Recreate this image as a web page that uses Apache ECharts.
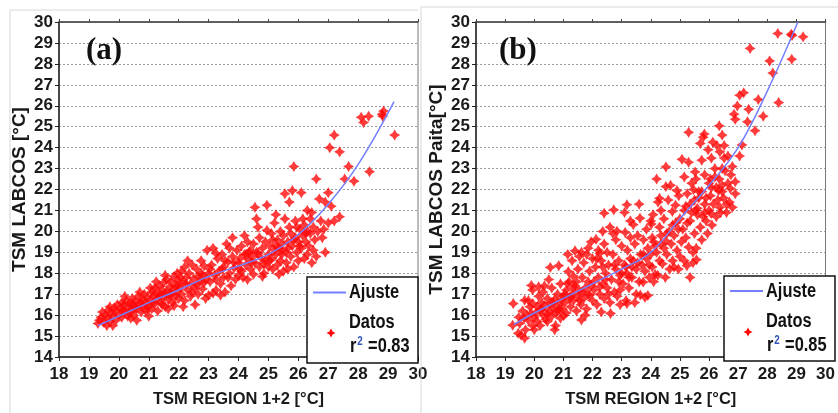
<!DOCTYPE html>
<html><head><meta charset="utf-8">
<script src="https://cdn.jsdelivr.net/npm/echarts@6/dist/echarts.min.js"></script>
<style>html,body{margin:0;padding:0;background:#fff}#c{width:838px;height:413px}</style>
</head><body><div id="c"></div>
<script>
const xRange = [18, 30];
const yRange = [14, 30];
const panelLabels = ['(a)', '(b)'];
const yNames = ['TSM LABCOS [°C]', 'TSM LABCOS Paita[°C]'];
const xName = 'TSM REGION 1+2 [°C]';
const legendNames = ['Ajuste', 'Datos'];
const r2Values = ['0.83', '0.85'];

const fitA = [[19.3,15.5],[20,15.95],[21,16.6],[22,17.2],[23,17.85],[24,18.35],[25,18.9],[26,19.85],[27,21.3],[28,23.2],[29.2,26.2]];
const fitB = [[19.3,15.55],[20,16.1],[21,16.8],[22,17.5],[23,18.2],[24,19.0],[25,20.6],[26,22.2],[27,24.0],[28,26.7],[29.05,30]];

const datosA = [
[19.3,15.6],[19.35,15.75],[19.4,15.9],[19.5,15.65],[19.55,16.0],[19.6,15.85],[19.65,16.25],[19.7,15.7],[19.75,16.1],[19.8,15.5],[19.8,15.95],[19.85,16.35],[19.9,16.2],[19.9,15.75],[19.95,16.5],[20.0,16.0],[19.7,16.4],[19.45,16.15],[19.6,15.5],
[20.05,16.3],[20.1,16.6],[20.1,15.9],[20.15,16.45],[20.2,16.15],[20.25,16.7],[20.3,16.35],[20.3,15.95],[20.35,16.55],[20.4,16.2],[20.45,16.8],[20.5,16.45],[20.5,16.0],[20.55,16.65],[20.6,15.75],[20.6,16.3],[20.65,16.9],[20.7,16.55],[20.75,16.15],[20.8,16.75],[20.8,16.4],[20.85,17.0],[20.9,16.6],[20.9,16.2],[20.95,16.85],[21.0,16.45],[21.0,15.95],[20.2,16.9],[20.4,15.85],[20.7,17.1],
[21.05,16.7],[21.1,17.1],[21.1,16.3],[21.15,16.9],[21.2,17.3],[21.2,16.55],[21.25,17.05],[21.3,16.8],[21.3,16.2],[21.35,17.4],[21.4,16.95],[21.4,16.6],[21.45,17.2],[21.5,17.55],[21.5,16.85],[21.55,16.4],[21.6,17.1],[21.6,17.7],[21.65,16.75],[21.7,17.35],[21.7,16.95],[21.75,17.6],[21.8,17.2],[21.8,16.6],[21.85,17.85],[21.9,17.4],[21.9,16.9],[21.95,17.15],[22.0,17.65],[22.0,16.8],[21.25,17.6],[21.55,17.9],[21.65,16.3],[21.95,18.0],[21.85,16.45],
[22.05,17.3],[22.1,18.1],[22.1,17.0],[22.15,17.55],[22.2,18.3],[22.2,16.7],[22.25,17.8],[22.3,17.2],[22.35,18.0],[22.4,17.5],[22.4,16.9],[22.45,18.4],[22.5,17.75],[22.55,16.5],[22.55,17.3],[22.6,18.2],[22.65,17.0],[22.7,17.6],[22.75,18.6],[22.8,17.9],[22.8,17.25],[22.85,18.35],[22.9,17.7],[22.95,19.1],[23.0,18.0],[23.0,16.95],[22.3,18.6],[22.6,17.45],[22.9,16.8],[22.15,16.4],
[23.05,17.6],[23.1,18.4],[23.15,19.2],[23.2,17.9],[23.25,17.2],[23.3,18.7],[23.35,18.1],[23.4,17.5],[23.45,18.9],[23.5,18.3],[23.5,17.8],[23.55,17.1],[23.6,19.4],[23.65,18.55],[23.7,18.0],[23.75,17.4],[23.8,18.8],[23.8,19.7],[23.85,18.25],[23.9,17.7],[23.95,19.1],[24.0,18.5],[24.0,17.9],[23.25,18.95],[23.4,16.95],[23.7,19.2],[23.15,17.05],
[24.05,18.7],[24.1,19.3],[24.1,18.1],[24.15,17.8],[24.2,18.9],[24.25,18.4],[24.3,19.5],[24.3,17.7],[24.35,18.65],[24.4,19.1],[24.4,18.2],[24.45,18.8],[24.5,19.4],[24.5,17.95],[24.55,18.5],[24.55,21.15],[24.6,20.6],[24.6,19.0],[24.65,20.2],[24.7,18.3],[24.7,19.7],[24.75,18.75],[24.8,19.2],[24.85,18.0],[24.9,18.6],[24.9,19.5],[24.95,21.25],[24.95,20.05],[25.0,18.9],[25.0,18.3],[24.2,19.8],[24.8,17.85],
[25.05,19.3],[25.1,18.7],[25.1,19.9],[25.15,18.2],[25.2,19.1],[25.2,20.4],[25.25,18.9],[25.3,19.6],[25.3,18.4],[25.35,19.2],[25.4,20.0],[25.4,18.6],[25.45,19.4],[25.5,18.1],[25.5,19.8],[25.55,20.6],[25.55,21.8],[25.6,19.0],[25.6,18.5],[25.65,19.5],[25.7,20.2],[25.7,21.4],[25.75,18.8],[25.8,19.3],[25.8,21.95],[25.85,23.1],[25.85,18.3],[25.9,19.7],[25.9,20.5],[25.95,19.0],[26.0,19.5],[26.0,18.6],[26.05,20.1],[25.25,20.8],[25.45,18.9],[25.65,18.2],[25.15,19.6],[25.75,19.9],[25.35,17.95],
[26.1,21.85],[26.1,19.2],[26.15,19.8],[26.2,18.7],[26.2,20.3],[26.25,19.5],[26.3,20.0],[26.3,18.9],[26.35,19.3],[26.4,20.6],[26.4,19.9],[26.45,18.5],[26.5,20.2],[26.5,19.1],[26.55,19.6],[26.6,22.5],[26.6,18.8],[26.65,20.0],[26.7,21.55],[26.75,20.5],[26.8,19.7],[26.85,20.1],[26.9,21.4],[26.9,19.0],[27.0,21.85],[27.0,20.4],[26.3,21.0],[26.45,20.9],
[27.05,24.0],[27.2,24.6],[27.2,20.5],[27.38,23.8],[27.38,20.7],[27.55,22.5],[27.68,23.1],[27.86,22.4],[28.1,25.45],[28.18,25.2],[28.35,25.5],[28.38,22.85],[28.8,25.6],[28.85,25.75],[28.82,25.5],[29.22,24.6],[27.1,21.2],
[20.15,16.25],[20.35,16.1],[20.55,16.35],[20.75,16.6],[20.95,16.35],[21.15,16.6],[21.35,16.95],[21.45,16.5],[21.55,17.05],[21.75,17.0],[21.95,17.4],[22.05,17.8],[22.25,17.5],[22.45,17.1],[22.65,17.85],[22.85,17.55],[23.05,18.2],[23.25,17.7],[23.45,18.2],[23.65,17.8],[23.85,18.5],[24.05,18.2],[24.25,18.9],[24.45,18.5],[24.65,18.95],[24.85,18.45],[25.05,18.6],[25.25,19.3],[25.45,19.1],[25.65,19.2],[25.85,19.6],[26.05,19.3],[26.25,19.9],[25.95,20.2],[26.15,20.6],[24.35,19.0],[23.55,18.6],[22.75,18.0],[21.05,17.3],[20.45,16.55]
];

const datosB = [
[19.28,16.55],[19.26,15.52],[19.45,15.13],[19.47,15.9],[19.67,14.9],[19.67,16.71],[19.9,17.42],[19.94,17.2],[19.94,15.5],[19.5,15.6],[19.6,16.2],[19.7,15.3],[19.75,16.0],[19.8,15.75],[19.85,16.4],[19.9,16.1],[20.0,15.9],[19.55,15.05],[19.8,16.7],[19.65,15.85],[19.95,16.55],[20.0,15.3],
[20.05,16.1],[20.1,16.4],[20.1,15.7],[20.15,16.9],[20.2,16.25],[20.2,15.5],[20.25,16.6],[20.3,16.0],[20.3,17.1],[20.35,16.45],[20.4,15.8],[20.45,15.69],[20.45,16.8],[20.5,16.2],[20.5,17.7],[20.55,18.28],[20.55,16.55],[20.6,15.95],[20.6,17.3],[20.65,16.35],[20.7,16.75],[20.73,15.5],[20.75,16.1],[20.8,17.0],[20.84,18.36],[20.85,16.5],[20.9,15.85],[20.9,17.5],[20.95,16.3],[21.0,16.9],[21.01,15.98],[20.35,17.4],[20.7,15.3],[20.15,17.35],[20.8,16.2],
[21.05,16.6],[21.1,17.2],[21.1,16.1],[21.17,18.08],[21.2,16.8],[21.2,17.6],[21.25,16.4],[21.3,17.0],[21.34,17.87],[21.35,16.7],[21.4,19.07],[21.4,17.4],[21.45,16.2],[21.5,16.9],[21.5,18.2],[21.55,17.15],[21.6,16.5],[21.62,19.0],[21.62,15.77],[21.65,17.8],[21.7,16.8],[21.7,18.5],[21.75,17.3],[21.8,16.3],[21.8,18.9],[21.85,19.2],[21.85,17.6],[21.9,16.95],[21.9,18.1],[21.95,17.4],[22.0,16.7],[22.0,18.7],[21.3,18.6],[21.55,18.8],[21.75,16.0],[21.95,19.5],[21.15,18.9],[21.45,17.6],
[22.05,17.2],[22.1,18.3],[22.12,19.62],[22.15,16.5],[22.2,17.8],[22.2,19.1],[22.25,17.0],[22.3,16.15],[22.3,18.6],[22.35,17.5],[22.4,20.87],[22.4,19.4],[22.4,16.8],[22.45,18.0],[22.5,17.3],[22.5,19.0],[22.55,18.4],[22.6,16.6],[22.62,16.08],[22.65,17.7],[22.7,18.9],[22.73,21.03],[22.75,17.1],[22.8,18.2],[22.8,19.6],[22.84,20.01],[22.85,16.9],[22.9,17.6],[22.9,18.6],[22.95,17.2],[23.0,18.0],[23.0,19.3],[22.15,18.7],[22.35,20.0],[22.6,20.2],[22.95,16.5],[22.7,19.9],[22.25,18.95],
[23.05,17.5],[23.1,18.4],[23.12,19.95],[23.15,16.7],[23.18,21.27],[23.18,16.55],[23.18,18.0],[23.2,19.1],[23.25,17.3],[23.3,18.7],[23.3,20.5],[23.35,17.8],[23.4,20.32],[23.4,18.6],[23.45,16.6],[23.45,19.4],[23.5,17.0],[23.5,18.2],[23.55,19.8],[23.6,17.6],[23.63,20.63],[23.64,16.96],[23.65,18.9],[23.7,18.4],[23.74,17.58],[23.75,19.6],[23.8,18.1],[23.85,18.7],[23.85,20.1],[23.9,16.94],[23.9,19.2],[23.95,17.8],[24.0,18.9],[24.0,20.5],[23.6,21.3],[23.3,19.7],[23.8,16.85],[23.1,20.9],
[24.02,20.35],[24.05,18.3],[24.08,20.8],[24.1,19.5],[24.15,17.95],[24.2,19.0],[24.24,17.9],[24.25,21.4],[24.3,21.58],[24.3,20.2],[24.3,18.6],[24.35,21.0],[24.35,19.8],[24.4,18.45],[24.45,19.2],[24.5,17.8],[24.52,19.54],[24.52,22.14],[24.52,23.08],[24.55,18.9],[24.6,21.5],[24.63,20.0],[24.65,18.2],[24.68,22.2],[24.7,19.4],[24.74,20.95],[24.75,18.6],[24.8,18.3],[24.85,21.25],[24.85,20.4],[24.9,21.95],[24.9,19.1],[24.95,18.2],[24.96,21.7],[25.0,18.8],[25.0,20.6],[24.45,20.6],[24.2,22.5],[24.8,19.8],[24.1,17.6],
[25.07,23.44],[25.05,19.5],[25.1,20.1],[25.15,18.6],[25.2,19.7],[25.2,21.2],[25.24,18.36],[25.25,21.8],[25.3,24.73],[25.3,23.3],[25.3,19.25],[25.35,17.8],[25.35,20.5],[25.4,22.3],[25.45,19.0],[25.47,22.0],[25.5,19.9],[25.5,21.5],[25.52,22.84],[25.55,22.5],[25.56,19.2],[25.57,18.65],[25.6,20.8],[25.65,21.9],[25.7,20.2],[25.7,24.2],[25.75,23.4],[25.75,21.9],[25.75,19.6],[25.8,24.5],[25.84,24.65],[25.85,22.7],[25.85,20.9],[25.9,20.5],[25.9,21.6],[25.95,19.9],[25.97,23.9],[26.0,22.3],[26.0,21.0],[25.4,20.9],[25.6,21.1],[25.15,22.6],[25.25,20.4],[25.45,18.5],[25.8,20.7],
[26.05,21.7],[26.07,20.85],[26.08,22.1],[26.08,23.5],[26.1,20.3],[26.13,24.26],[26.15,21.3],[26.2,22.6],[26.25,20.7],[26.27,24.1],[26.3,21.5],[26.33,21.95],[26.35,25.04],[26.35,22.5],[26.37,23.8],[26.37,21.15],[26.4,20.9],[26.45,24.6],[26.45,22.2],[26.5,21.6],[26.52,24.1],[26.52,23.5],[26.55,22.9],[26.6,21.3],[26.65,23.6],[26.7,21.4],[26.73,22.05],[26.75,22.7],[26.8,21.15],[26.86,25.6],[26.9,25.35],[26.9,22.37],[26.9,21.8],[26.97,25.99],[26.2,23.0],[26.6,20.9],[26.45,21.9],[26.8,23.1],
[27.05,26.5],[27.05,23.6],[27.13,24.13],[27.19,26.62],[27.32,25.23],[27.36,25.83],[27.41,28.74],[27.58,24.81],[27.69,26.3],[27.86,25.5],[28.08,28.14],[28.19,27.56],[28.36,29.45],[28.39,26.15],[28.82,29.42],[28.85,29.35],[28.84,28.22],[29.23,29.29],
[20.25,16.3],[20.45,16.05],[20.65,16.6],[20.85,16.3],[20.95,16.75],[21.05,17.0],[21.25,16.85],[21.35,17.3],[21.55,16.7],[21.65,17.1],[21.85,17.0],[22.05,17.6],[22.25,17.35],[22.45,17.7],[22.55,17.0],[22.75,18.4],[22.95,17.9],[23.15,18.3],[23.35,18.3],[23.55,18.5],[23.75,18.9],[23.95,18.4],[24.15,19.3],[24.35,19.4],[24.55,19.9],[24.75,20.3],[24.95,20.1],[25.15,21.0],[25.35,21.3],[25.55,21.0],[25.65,21.6],[25.85,21.3],[26.05,22.5],[26.25,22.1],[26.45,23.0],[26.65,22.3],[24.05,19.7],[23.25,17.8],[22.35,18.3],[21.15,17.5]
];

const SANS = "'Liberation Sans',Arial,sans-serif";
const FIT_COLOR = '#7480ff';
const DOT_COLOR = '#ff0a0a';
const STAR = 'path://M5,0 L6.9,3.1 L10,5 L6.9,6.9 L5,10 L3.1,6.9 L0,5 L3.1,3.1 Z';
const NARROW_SCALE = 0.82;

const grids = [
  {left: 59, top: 22, width: 359, height: 341},
  {left: 476, top: 22, width: 359, height: 339}
];

function bottomX(gi) {
  return {
    type: 'value', gridIndex: gi, min: xRange[0], max: xRange[1], interval: 1, position: 'bottom',
    axisLine: {show: true, onZero: false, lineStyle: {color: '#222', width: 1.5}},
    axisTick: {show: true, length: 4, lineStyle: {color: '#222'}},
    axisLabel: {margin: 9, color: '#1a1a1a', fontFamily: SANS, fontWeight: 'bold', fontSize: 17},
    splitLine: {show: false},
    name: xName, nameLocation: 'middle', nameGap: 34,
    nameTextStyle: {fontFamily: SANS, fontWeight: 'bold', fontSize: 16.5, color: '#1a1a1a'}
  };
}
function topX(gi) {
  return {
    type: 'value', gridIndex: gi, min: xRange[0], max: xRange[1], interval: 1, position: 'top',
    axisLine: {show: true, onZero: false, lineStyle: {color: '#444', width: 1.5}},
    axisTick: {show: true, length: 3, lineStyle: {color: '#444'}},
    axisLabel: {show: false}, splitLine: {show: false}
  };
}
function leftY(gi) {
  return {
    type: 'value', gridIndex: gi, min: yRange[0], max: yRange[1], interval: 1,
    axisLine: {show: true, onZero: false, lineStyle: {color: '#222', width: 1.5}},
    axisTick: {show: true, length: 4, lineStyle: {color: '#222'}},
    axisLabel: {margin: 6, color: '#1a1a1a', fontFamily: SANS, fontWeight: 'bold', fontSize: 17},
    splitLine: {show: true, lineStyle: {color: '#9a9a9a', width: 1, type: [2, 2]}},
    name: yNames[gi], nameLocation: 'middle', nameGap: 30, nameRotate: 90,
    nameTextStyle: {fontFamily: SANS, fontWeight: 'bold', fontSize: 19, color: '#1a1a1a'}
  };
}

const legendBoxes = [
  {x: 307, y: 277, w: 111, h: 86, lineY: 292.5, starX: 331, starY: 333},
  {x: 724, y: 276, w: 111, h: 85, lineY: 291, starX: 748, starY: 332}
];

function starPoints(cx, cy, r) {
  const k = r * 0.36;
  return [[cx, cy - r], [cx + k, cy - k], [cx + r, cy], [cx + k, cy + k], [cx, cy + r], [cx - k, cy + k], [cx - r, cy], [cx - k, cy - k]];
}

const graphic = [];
graphic.push({type: 'polyline', z: 1, shape: {points: [[10, 413], [10, 10], [418, 10]]}, style: {stroke: '#d6d6d6', lineWidth: 1, fill: null}});
graphic.push({type: 'polyline', z: 1, shape: {points: [[421, 413], [421, 7], [838, 7]]}, style: {stroke: '#d6d6d6', lineWidth: 1, fill: null}});
panelLabels.forEach((t, i) => {
  graphic.push({type: 'text', z: 100, x: i === 0 ? 86 : 499, y: 51,
    style: {text: t, font: "bold 31px 'Liberation Serif','Times New Roman',serif", fill: '#111', textVerticalAlign: 'middle'}});
});
legendBoxes.forEach((b, i) => {
  graphic.push({type: 'rect', z: 100, shape: {x: b.x, y: b.y, width: b.w, height: b.h}, style: {fill: '#fff', stroke: '#111', lineWidth: 1.5}});
  graphic.push({type: 'line', z: 101, shape: {x1: b.x + 6, y1: b.lineY, x2: b.x + 39, y2: b.lineY}, style: {stroke: FIT_COLOR, lineWidth: 2}});
  graphic.push({type: 'text', z: 101, x: b.x + 42, y: b.lineY, scaleX: NARROW_SCALE,
    style: {text: legendNames[0], font: "bold 20px " + SANS, fill: '#111', textVerticalAlign: 'middle'}});
  graphic.push({type: 'polygon', z: 101, shape: {points: starPoints(b.starX, b.starY, 4.5)}, style: {fill: DOT_COLOR}});
  graphic.push({type: 'text', z: 101, x: b.x + 42, y: b.starY - 10.5, scaleX: NARROW_SCALE,
    style: {text: legendNames[1], font: "bold 20px " + SANS, fill: '#111', textVerticalAlign: 'middle'}});
  graphic.push({type: 'text', z: 101, x: b.x + 43, y: b.starY + 13.5, scaleX: NARROW_SCALE, style: {
    text: '{r|r}{s|2}{r| =' + r2Values[i] + '}',
    textVerticalAlign: 'middle',
    rich: {
      r: {font: "bold 20px " + SANS, fill: '#111'},
      s: {font: "bold 12px " + SANS, fill: '#3355bb', padding: [0, 1, 9, 1]}
    }
  }});
});

const option = {
  animation: false,
  backgroundColor: '#fff',
  grid: grids.map(g => Object.assign({show: true, borderColor: '#777', borderWidth: 1, backgroundColor: 'transparent'}, g)),
  xAxis: [bottomX(0), topX(0), bottomX(1), topX(1)],
  yAxis: [leftY(0), leftY(1)],
  series: [
    {name: 'Datos', type: 'scatter', xAxisIndex: 0, yAxisIndex: 0, data: datosA, symbol: STAR, symbolSize: 11, itemStyle: {color: DOT_COLOR}},
    {name: 'Ajuste', type: 'line', xAxisIndex: 0, yAxisIndex: 0, data: fitA, smooth: 0.4, showSymbol: false, lineStyle: {color: FIT_COLOR, width: 1.5}, z: 5},
    {name: 'Datos', type: 'scatter', xAxisIndex: 2, yAxisIndex: 1, data: datosB, symbol: STAR, symbolSize: 11, itemStyle: {color: DOT_COLOR}},
    {name: 'Ajuste', type: 'line', xAxisIndex: 2, yAxisIndex: 1, data: fitB, smooth: 0.4, showSymbol: false, lineStyle: {color: FIT_COLOR, width: 1.5}, z: 5}
  ],
  graphic: graphic
};

const chart = echarts.init(document.getElementById('c'), null, {renderer: 'canvas'});
chart.setOption(option);
</script>
</body></html>
